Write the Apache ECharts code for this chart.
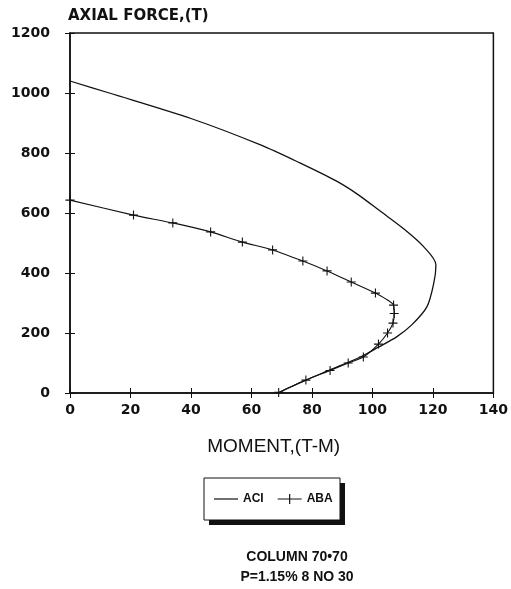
<!DOCTYPE html>
<html>
<head>
<meta charset="utf-8">
<script src="https://cdn.jsdelivr.net/npm/echarts@6/dist/echarts.min.js"></script>
<style>
  html, body { margin: 0; padding: 0; background: #fff; }
  #chart { width: 511px; height: 589px; }
</style>
</head>
<body>
<div id="chart"></div>
<script>
// ACI curve (no markers)
const aciMoment = [0, 13, 40, 63, 76, 88, 95, 103, 110, 117, 121, 120.3, 118, 113, 108, 102, 96, 86, 78, 73, 69];
const aciForce = [1040, 1000, 915, 827, 767, 707, 663, 603, 550, 487, 427, 367, 287, 227, 187, 153, 120, 77, 43, 20, 0];

// ABA curve (+ markers)
const abaMoment = [0, 21, 34, 46.5, 57, 67, 77, 85, 93, 101, 107, 107.2, 106.8, 105, 102, 97, 92, 86, 78, 69];
const abaForce = [643, 593, 567, 537, 503, 477, 440, 407, 370, 333, 293, 265, 233, 200, 163, 120, 100, 75, 43, 2];

const seriesNames = ['ACI', 'ABA'];
const xLabel = 'MOMENT,(T-M)';
const yLabel = 'AXIAL FORCE,(T)';
const noteLines = ['COLUMN 70\u202270', 'P=1.15% 8 NO 30'];

const ink = '#111';
const crossPath = 'path://M4.4,0h1.2v10h-1.2z M0,4.4h10v1.2h-10z';

function pairs(xs, ys) {
  return xs.map((x, i) => [x, ys[i]]);
}

const tickFont = {
  color: ink,
  fontFamily: 'DejaVu Sans',
  fontWeight: 'bold',
  fontSize: 14,
  formatter: (v) => String(v),
};

const chart = echarts.init(document.getElementById('chart'));

chart.setOption({
  backgroundColor: '#fff',
  animation: false,
  title: {
    text: noteLines.join('\n'),
    left: 292,
    top: 542,
    textAlign: 'center',
    textStyle: {
      color: ink,
      fontFamily: 'Liberation Sans',
      fontWeight: 'bold',
      fontSize: 14,
      lineHeight: 20,
    },
  },
  // legend frame with its hard drop shadow
  graphic: [
    {
      type: 'rect',
      z: 1,
      shape: { x: 209, y: 483, width: 136, height: 42 },
      style: { fill: ink },
    },
    {
      type: 'rect',
      z: 2,
      shape: { x: 204, y: 478, width: 136, height: 42 },
      style: { fill: '#fff', stroke: ink, lineWidth: 1 },
    },
  ],
  legend: {
    z: 10,
    data: [
      { name: 'ACI', icon: 'path://M0,4.4h24v1.2h-24z' },
      { name: 'ABA', icon: 'path://M0,4.4h24v1.2h-24z M11.4,0h1.2v10h-1.2z' },
    ],
    left: 214,
    top: 493,
    padding: 0,
    itemGap: 14,
    itemWidth: 24,
    itemHeight: 10,
    textStyle: {
      color: ink,
      fontFamily: 'Liberation Sans',
      fontWeight: 'bold',
      fontSize: 12,
    },
  },
  grid: {
    left: 70,
    right: 14,
    top: 33,
    bottom: 196,
    show: true,
    borderColor: ink,
    borderWidth: 1.5,
    backgroundColor: 'transparent',
  },
  xAxis: [
    {
      type: 'value',
      min: 0,
      max: 140,
      interval: 20,
      position: 'bottom',
      name: xLabel,
      nameLocation: 'middle',
      nameGap: 44,
      nameTextStyle: {
        color: ink,
        fontFamily: 'Liberation Sans',
        fontSize: 19,
        padding: [0, 16, 0, 0],
      },
      axisLine: { show: true, onZero: false, lineStyle: { color: ink, width: 1.5 } },
      axisTick: { show: true, inside: false, length: 5, lineStyle: { color: ink } },
      axisLabel: Object.assign({ margin: 10 }, tickFont),
      splitLine: { show: false },
    },
    {
      type: 'value',
      min: 0,
      max: 140,
      interval: 20,
      position: 'bottom',
      axisLine: { show: false, onZero: false },
      axisTick: { show: true, inside: true, length: 5, lineStyle: { color: ink } },
      axisLabel: { show: false },
      splitLine: { show: false },
    },
  ],
  yAxis: [
    {
      type: 'value',
      min: 0,
      max: 1200,
      interval: 200,
      position: 'left',
      name: yLabel,
      nameLocation: 'end',
      nameGap: 9,
      nameTextStyle: {
        color: ink,
        fontFamily: 'DejaVu Sans',
        fontWeight: 'bold',
        fontSize: 15,
        align: 'left',
        padding: [0, 0, 0, -2],
      },
      axisLine: { show: true, onZero: false, lineStyle: { color: ink, width: 1.5 } },
      axisTick: { show: true, inside: false, length: 5, lineStyle: { color: ink } },
      axisLabel: Object.assign({ margin: 20 }, tickFont),
      splitLine: { show: false },
    },
    {
      type: 'value',
      min: 0,
      max: 1200,
      interval: 200,
      position: 'left',
      axisLine: { show: false, onZero: false },
      axisTick: { show: true, inside: true, length: 5, lineStyle: { color: ink } },
      axisLabel: { show: false },
      splitLine: { show: false },
    },
  ],
  series: [
    {
      name: seriesNames[0],
      type: 'line',
      data: pairs(aciMoment, aciForce),
      showSymbol: false,
      symbol: 'none',
      smooth: 0.3,
      lineStyle: { color: ink, width: 1.3 },
      itemStyle: { color: ink },
    },
    {
      name: seriesNames[1],
      type: 'line',
      data: pairs(abaMoment, abaForce),
      symbol: crossPath,
      symbolSize: 9,
      showAllSymbol: true,
      smooth: 0.2,
      lineStyle: { color: ink, width: 1.1 },
      itemStyle: { color: ink },
    },
  ],
});
</script>
</body>
</html>
